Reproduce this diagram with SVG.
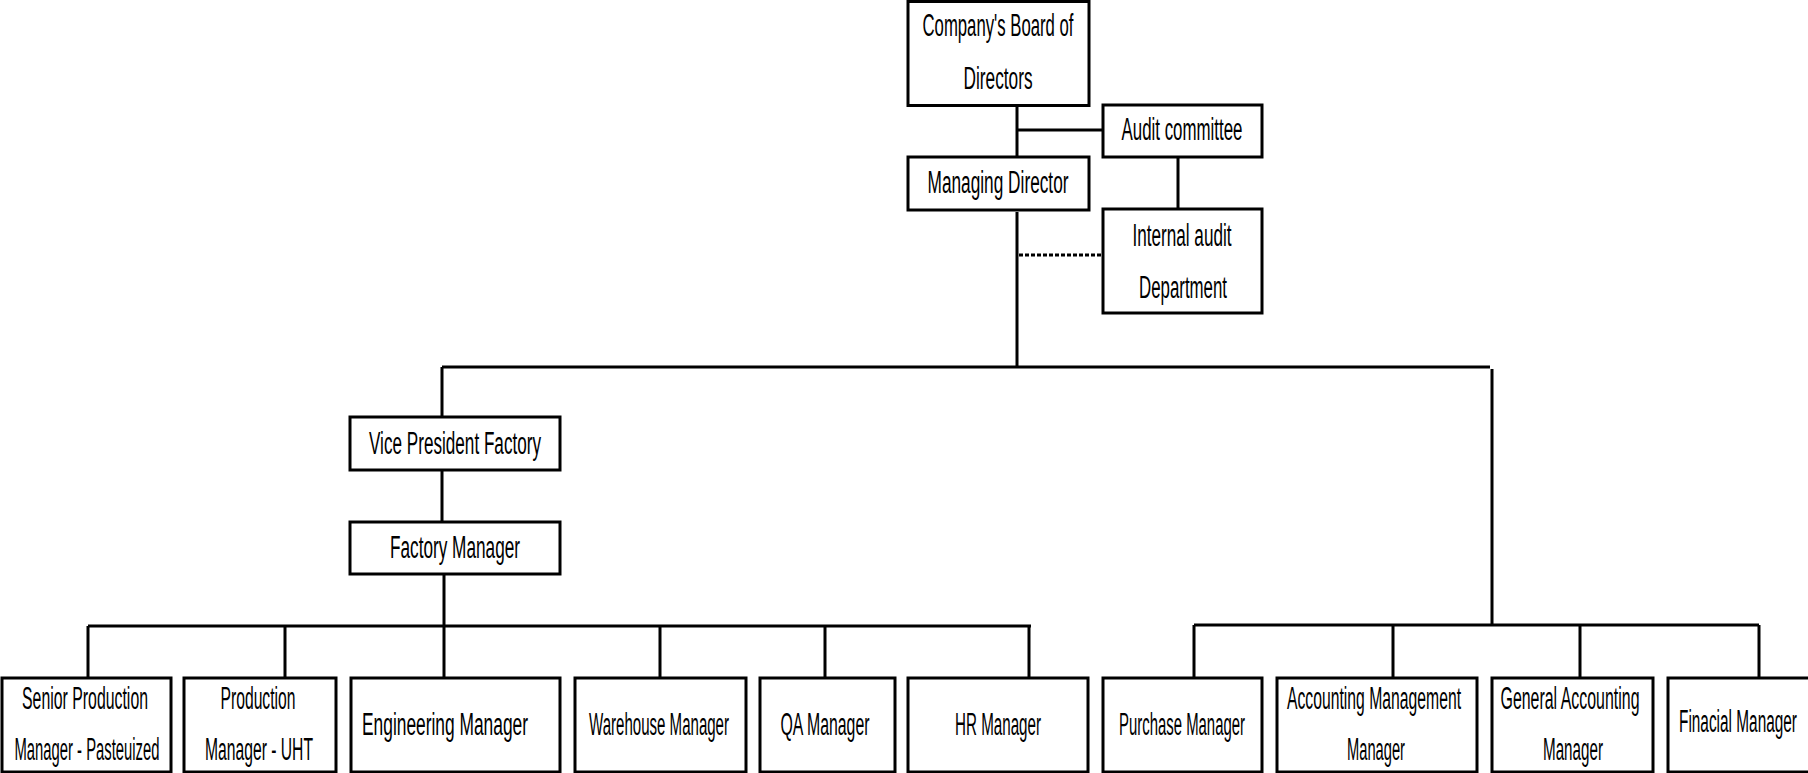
<svg xmlns="http://www.w3.org/2000/svg" width="1808" height="773" viewBox="0 0 1808 773">
<style>
.box{fill:#fff;stroke:#000;stroke-width:3}
.ln{fill:none;stroke:#000;stroke-width:3}
.dash{fill:none;stroke:#000;stroke-width:3;stroke-dasharray:4 2}
text{font-family:"Liberation Sans",Arial,sans-serif;font-size:17px;fill:#000;text-anchor:middle}
</style>
<rect width="1808" height="773" fill="#fff"/>
<g id="connectors">
<path class="ln" d="M1017 105V157M1017 130H1103M1178 157V209M1017 212V367M442 367H1490M1492 369V625M442 367V417M442 470V522M444 574V627"/>
<path class="dash" d="M1019 255H1103"/>
<path class="ln" d="M88 626H1031M88 626V678M285 626V678M444 626V678M660 626V678M825 626V678M1029 626V678"/>
<path class="ln" d="M1194 625H1759M1194 625V678M1393 625V678M1580 625V678M1759 625V678"/>
</g>
<g id="board"><rect class="box" x="908" y="1.5" width="181" height="104"/>
<text transform="translate(998,36) scale(1,1.85)" textLength="151" lengthAdjust="spacingAndGlyphs">Company's Board of</text>
<text transform="translate(998,89) scale(1,1.85)" textLength="69" lengthAdjust="spacingAndGlyphs">Directors</text></g>
<g id="audit-committee"><rect class="box" x="1103" y="105" width="159" height="52"/>
<text transform="translate(1182,140) scale(1,1.85)" textLength="121" lengthAdjust="spacingAndGlyphs">Audit committee</text></g>
<g id="managing-director"><rect class="box" x="908" y="157" width="181" height="53"/>
<text transform="translate(998,193) scale(1,1.85)" textLength="141" lengthAdjust="spacingAndGlyphs">Managing Director</text></g>
<g id="internal-audit"><rect class="box" x="1103" y="209" width="159" height="104"/>
<text transform="translate(1182,246) scale(1,1.85)" textLength="99" lengthAdjust="spacingAndGlyphs">Internal audit</text>
<text transform="translate(1183,298) scale(1,1.85)" textLength="88" lengthAdjust="spacingAndGlyphs">Department</text></g>
<g id="vp-factory"><rect class="box" x="350" y="417" width="210" height="53"/>
<text transform="translate(455,454) scale(1,1.85)" textLength="172" lengthAdjust="spacingAndGlyphs">Vice President Factory</text></g>
<g id="factory-manager"><rect class="box" x="350" y="522" width="210" height="52"/>
<text transform="translate(455,558) scale(1,1.85)" textLength="130" lengthAdjust="spacingAndGlyphs">Factory Manager</text></g>
<g id="senior-production"><rect class="box" x="2" y="678" width="169" height="94"/>
<text transform="translate(85,709) scale(1,1.85)" textLength="126" lengthAdjust="spacingAndGlyphs">Senior Production</text>
<text transform="translate(87,760) scale(1,1.85)" textLength="145" lengthAdjust="spacingAndGlyphs">Manager - Pasteuized</text></g>
<g id="production-uht"><rect class="box" x="184" y="678" width="152" height="94"/>
<text transform="translate(258,709) scale(1,1.85)" textLength="75" lengthAdjust="spacingAndGlyphs">Production</text>
<text transform="translate(259,760) scale(1,1.85)" textLength="108" lengthAdjust="spacingAndGlyphs">Manager - UHT</text></g>
<g id="engineering"><rect class="box" x="351" y="678" width="209" height="94"/>
<text transform="translate(445,735) scale(1,1.85)" textLength="166" lengthAdjust="spacingAndGlyphs">Engineering Manager</text></g>
<g id="warehouse"><rect class="box" x="575" y="678" width="171" height="94"/>
<text transform="translate(659,735) scale(1,1.85)" textLength="140" lengthAdjust="spacingAndGlyphs">Warehouse Manager</text></g>
<g id="qa"><rect class="box" x="760" y="678" width="135" height="94"/>
<text transform="translate(825,735) scale(1,1.85)" textLength="89" lengthAdjust="spacingAndGlyphs">QA Manager</text></g>
<g id="hr"><rect class="box" x="908" y="678" width="180" height="94"/>
<text transform="translate(998,735) scale(1,1.85)" textLength="86" lengthAdjust="spacingAndGlyphs">HR Manager</text></g>
<g id="purchase"><rect class="box" x="1103" y="678" width="159" height="94"/>
<text transform="translate(1182,735) scale(1,1.85)" textLength="126" lengthAdjust="spacingAndGlyphs">Purchase Manager</text></g>
<g id="accounting-management"><rect class="box" x="1277" y="678" width="200" height="94"/>
<text transform="translate(1374,709) scale(1,1.85)" textLength="174" lengthAdjust="spacingAndGlyphs">Accounting Management</text>
<text transform="translate(1376,760) scale(1,1.85)" textLength="58" lengthAdjust="spacingAndGlyphs">Manager</text></g>
<g id="general-accounting"><rect class="box" x="1492" y="678" width="161" height="94"/>
<text transform="translate(1570,709) scale(1,1.85)" textLength="139" lengthAdjust="spacingAndGlyphs">General Accounting</text>
<text transform="translate(1573,760) scale(1,1.85)" textLength="60" lengthAdjust="spacingAndGlyphs">Manager</text></g>
<g id="financial"><rect class="box" x="1668" y="678" width="150" height="94"/>
<text transform="translate(1738,732) scale(1,1.85)" textLength="118" lengthAdjust="spacingAndGlyphs">Finacial Manager</text></g>
</svg>
